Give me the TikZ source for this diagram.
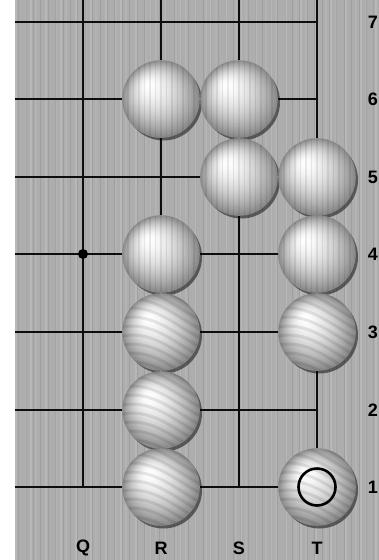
\documentclass[tikz,border=0pt]{standalone}
\usepackage{fontspec}
\setmainfont{Liberation Sans}[BoldFont={Liberation Sans Bold}]
\begin{document}
\begin{tikzpicture}[x=1pt,y=-1pt,
  gridline/.style={line width=2.5pt, black!95},
  stone/.style={circle, minimum size=77pt, inner sep=0pt},
  coordlabel/.style={font=\fontsize{18}{18}\selectfont\bfseries, text=black},
  marker/.style={draw=black, line width=2.6pt, circle, minimum size=37pt, inner sep=0pt}]
\useasboundingbox (0,0) rectangle (379,560);
\fill[white] (0,0) rectangle (379,560);
\fill[black!32] (15,0) rectangle (379,560);
% wood grain
\foreach \i in {0,...,72}{
  \pgfmathsetmacro{\xx}{16+5*\i}
  \pgfmathsetmacro{\op}{mod(\i,3)==0 ? 0.14 : (mod(\i,2)==0 ? 0.08 : 0.0)}
  \draw[white, line width=1.6pt, opacity=\op] (\xx,0) -- (\xx,560);
}
\foreach \i in {0,...,48}{
  \pgfmathsetmacro{\xx}{18.5+7.4*\i}
  \draw[black, line width=0.8pt, opacity=0.08] (\xx,0) -- (\xx,560);
}
% grid
\foreach \y in {22,99,177,254,332,410,487}{
  \draw[gridline] (15,\y) -- (317,\y);
}
\foreach \x in {83,161,239,317}{
  \draw[gridline] (\x,0) -- (\x,487);
}
\fill[black] (83,254) circle (5pt);
% stones
\foreach \n/\x/\y/\s in {R6/161/99/0, S6/239/99/0, S5/239/177/0, T5/317/177/0,
  R4/161/254/0, T4/317/254/0, R3/161/332/1, T3/317/332/1, R2/161/410/1, R1/161/487/1, T1/317/487/1}{
  \fill[black, opacity=0.5] (\x+2.5,\y+3) circle (38.5pt);
  \node[stone] (\n) at (\x,\y) {};
  \foreach \k in {0,...,24}{
    \pgfmathsetmacro{\t}{\k/25}
    \pgfmathsetmacro{\pc}{46*(1-\t)^1.7}
    \pgfmathsetmacro{\rr}{38.5*(1-\t)+0.3}
    \pgfmathsetmacro{\cx}{\x-13*\t}
    \pgfmathsetmacro{\cy}{\y-15*\t}
    \fill[black!\pc!white] (\cx,\cy) circle (\rr pt);
  }
  \begin{scope}
    \clip (\x,\y) circle (38.5pt);
    \ifnum\s=0
      \foreach \k in {-7,...,7}{
        \draw[black, line width=1.6pt, opacity=0.08] (\x+5.5*\k,\y-40) -- (\x+5.5*\k,\y+40);
      }
    \else
      \foreach \k in {-8,...,8}{
        \draw[black, line width=3pt, opacity=0.09] (\x-45,\y+9*\k-12) .. controls (\x-10,\y+9*\k-24) and (\x+15,\y+9*\k+4) .. (\x+45,\y+9*\k+18);
      }
    \fi
  \end{scope}
}
\node[marker] (mk) at (T1) {};
% labels
\foreach \r/\y in {7/22,6/99,5/177,4/254,3/332,2/410,1/487}{
  \node[coordlabel] (row\r) at (373,\y) {\r};
}
\foreach \c/\x in {Q/83,R/161,S/239,T/317}{
  \node[coordlabel] (col\c) at (\x,548) {\c};
}
\end{tikzpicture}
\end{document}
